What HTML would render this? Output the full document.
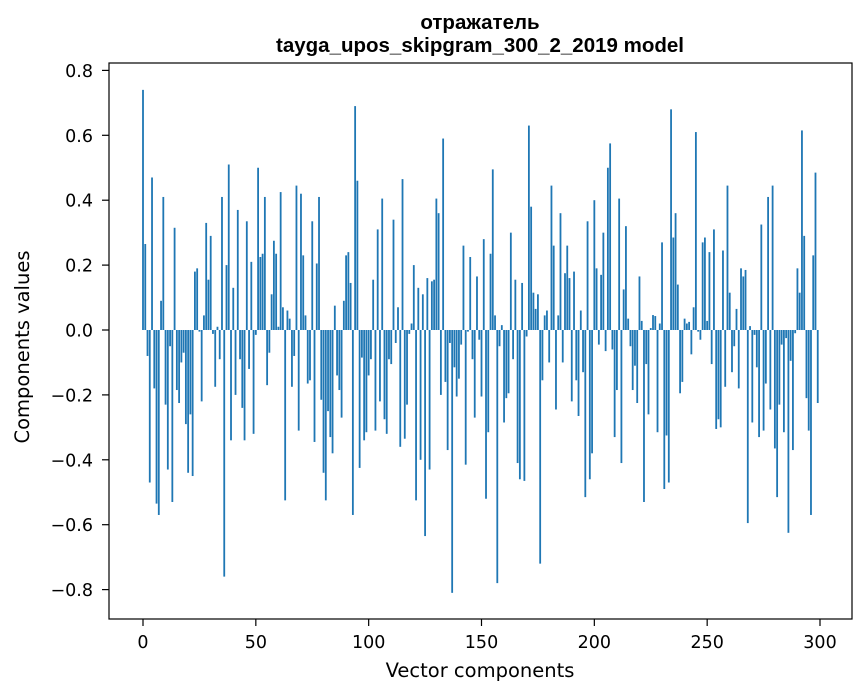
<!DOCTYPE html>
<html><head><meta charset="utf-8"><style>
body{margin:0;background:#fff;font-family:"DejaVu Sans","Liberation Sans",sans-serif}
svg text{font-family:"DejaVu Sans","Liberation Sans",sans-serif}
svg text.title{font-family:"Liberation Sans","DejaVu Sans",sans-serif}
</style></head><body>
<svg id="chart" width="867" height="696" viewBox="0 0 867 696" xmlns="http://www.w3.org/2000/svg">
<rect width="867" height="696" fill="#fff"/>
<text class="title" x="480" y="29" text-anchor="middle" font-size="20.5" font-weight="bold">отражатель</text>
<text class="title" x="480" y="52" text-anchor="middle" font-size="20.5" font-weight="bold">tayga_upos_skipgram_300_2_2019 model</text>
<g id="bars"></g>
<g id="axes"></g>
<rect x="109" y="63" width="743" height="556" fill="none" stroke="#000" stroke-width="1.2"/>
<text x="480" y="677" text-anchor="middle" font-size="19.5">Vector components</text>
<text transform="translate(29,347) rotate(-90)" text-anchor="middle" font-size="19.5">Components values</text>
</svg>
<script>
const values = [0.74,0.265,-0.08,-0.47,0.47,-0.18,-0.535,-0.57,0.09,0.41,
-0.23,-0.43,-0.05,-0.53,0.315,-0.185,-0.225,-0.1,-0.07,-0.29,
-0.44,-0.26,-0.45,0.18,0.19,-0.005,-0.22,0.045,0.33,0.155,
0.29,-0.012,-0.175,0.01,-0.09,0.41,-0.76,0.2,0.51,-0.34,
0.13,-0.2,0.37,-0.09,-0.24,-0.34,0.335,-0.12,0.21,-0.32,
-0.015,0.5,0.225,0.235,0.41,-0.17,-0.07,0.11,0.275,0.235,
0.01,0.425,0.07,-0.525,0.06,0.035,-0.175,-0.08,0.445,-0.31,
0.42,0.23,0.045,-0.165,-0.155,0.335,-0.345,0.205,0.41,-0.215,
-0.44,-0.525,-0.25,-0.33,-0.38,0.075,-0.14,-0.185,-0.27,0.09,
0.23,0.24,0.145,-0.57,0.69,0.46,-0.425,-0.085,-0.34,-0.315,
-0.14,-0.09,0.155,-0.31,0.31,-0.22,0.405,-0.275,-0.32,-0.09,
-0.105,0.34,-0.04,0.07,-0.36,0.465,-0.335,-0.23,-0.012,0.02,
0.2,-0.525,0.13,-0.40,0.11,-0.635,0.16,-0.43,0.15,0.155,
0.405,0.36,-0.2,0.59,-0.16,-0.37,-0.04,-0.81,-0.115,-0.205,
-0.15,-0.045,0.26,-0.415,-0.005,0.225,-0.09,-0.27,0.165,-0.03,
-0.205,0.28,-0.52,-0.315,0.235,0.495,0.045,-0.78,-0.05,0.015,
-0.285,-0.21,-0.195,0.3,-0.09,0.155,-0.41,-0.46,0.145,-0.465,
-0.02,0.63,0.38,0.115,0.065,0.11,-0.72,-0.155,0.045,0.06,
-0.1,0.445,0.26,-0.245,0.045,0.36,-0.1,0.175,0.26,0.16,
-0.22,0.18,-0.155,-0.265,0.06,-0.13,-0.515,0.335,-0.46,-0.38,
0.4,0.19,-0.045,0.17,0.3,-0.065,0.5,0.575,-0.06,-0.33,
-0.185,0.405,-0.41,0.125,0.32,0.035,-0.05,-0.185,-0.11,-0.225,
0.165,0.028,-0.53,-0.105,-0.26,0.006,0.046,0.043,-0.315,0.02,
0.27,-0.49,-0.325,-0.47,0.68,0.285,0.36,0.14,-0.195,-0.16,
0.035,0.02,0.025,-0.075,0.07,0.61,-0.005,-0.03,0.27,0.285,
0.028,0.24,-0.105,0.31,-0.305,-0.275,-0.30,0.245,-0.175,0.445,
0.115,-0.13,-0.05,0.065,-0.18,0.19,0.165,0.185,-0.595,0.012,
-0.285,-0.015,-0.115,-0.33,0.325,-0.31,-0.165,0.41,-0.245,0.445,
-0.365,-0.515,-0.23,-0.045,-0.315,-0.025,-0.625,-0.095,-0.37,-0.01,
0.19,0.115,0.615,0.29,-0.21,-0.31,-0.57,0.23,0.485,-0.225];
const xTicks = [0,50,100,150,200,250,300];
const yTicks = [-0.8,-0.6,-0.4,-0.2,0.0,0.2,0.4,0.6,0.8];
const yTickLabels = ["\u22120.8","\u22120.6","\u22120.4","\u22120.2","0.0","0.2","0.4","0.6","0.8"];

const NS = "http://www.w3.org/2000/svg";
function xScale(v){ return 143 + v * (677/300); }
function yScale(v){ return 330 - v * 324.5; }
const bars = document.getElementById('bars');
values.forEach((v, i) => {
  const r = document.createElementNS(NS, 'rect');
  const w = 0.8 * (677/300);
  r.setAttribute('x', xScale(i) - w/2);
  r.setAttribute('y', Math.min(yScale(v), yScale(0)));
  r.setAttribute('width', w);
  r.setAttribute('height', Math.abs(yScale(v) - yScale(0)));
  r.setAttribute('fill', '#1f77b4');
  
  
  bars.appendChild(r);
});
const axes = document.getElementById('axes');
xTicks.forEach(t => {
  const x = xScale(t);
  const l = document.createElementNS(NS, 'line');
  l.setAttribute('x1', x); l.setAttribute('x2', x);
  l.setAttribute('y1', 619); l.setAttribute('y2', 626);
  l.setAttribute('stroke', '#000');
  l.setAttribute('stroke-width', '1.2');
  
  
  axes.appendChild(l);
  const tx = document.createElementNS(NS, 'text');
  tx.setAttribute('x', x); tx.setAttribute('y', 648);
  tx.setAttribute('text-anchor', 'middle'); tx.setAttribute('font-size', '17.5');
  tx.textContent = String(t);
  
  
  axes.appendChild(tx);
});
yTicks.forEach((t, k) => {
  const y = yScale(t);
  const l = document.createElementNS(NS, 'line');
  l.setAttribute('x1', 102); l.setAttribute('x2', 109);
  l.setAttribute('y1', y); l.setAttribute('y2', y);
  l.setAttribute('stroke', '#000');
  l.setAttribute('stroke-width', '1.2');
  
  
  axes.appendChild(l);
  const tx = document.createElementNS(NS, 'text');
  tx.setAttribute('x', 93); tx.setAttribute('y', y + 6.5);
  tx.setAttribute('text-anchor', 'end'); tx.setAttribute('font-size', '17.5');
  tx.textContent = yTickLabels[k];
  
  
  axes.appendChild(tx);
});
</script>
</body></html>
